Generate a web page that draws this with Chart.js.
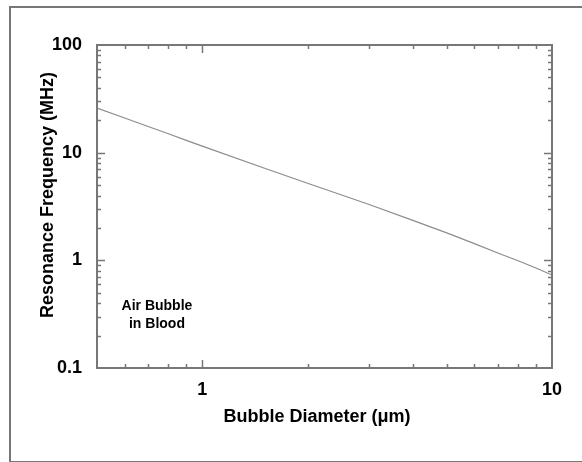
<!DOCTYPE html>
<html>
<head>
<meta charset="utf-8">
<script src="https://cdn.jsdelivr.net/npm/chart.js@4.4.0/dist/chart.umd.min.js"></script>
<style>
  html, body { margin: 0; padding: 0; background: #fff; }
  #wrap { position: relative; width: 582px; height: 462px; overflow: hidden; }
  #frame { position: absolute; left: 9px; top: 6px; width: 700px; height: 453px; border: 2px solid #777; }
  #myChart { position: absolute; left: 0; top: 0; }
</style>
</head>
<body>
<div id="wrap">
  <div id="frame"></div>
  <canvas id="myChart" width="582" height="462"></canvas>
</div>
<script>
// bubble diameter (um) and resonance frequency (MHz)
var diameters = [0.5, 0.6, 0.7, 0.8, 0.9, 1, 1.5, 2, 3, 4, 5, 6, 7, 8, 9, 10];
var frequencies = [26, 21, 17.5, 15, 13, 11.5, 7.2, 5.2, 3.3, 2.35, 1.8, 1.43, 1.17, 0.99, 0.85, 0.73];

// tick marks and labels
var xTickValues = [0.5, 0.6, 0.7, 0.8, 0.9, 1, 2, 3, 4, 5, 6, 7, 8, 9, 10];
var xTickLabels = [1, 10];
var yTickValues = [0.1, 0.2, 0.3, 0.4, 0.5, 0.6, 0.7, 0.8, 0.9,
                   1, 2, 3, 4, 5, 6, 7, 8, 9,
                   10, 20, 30, 40, 50, 60, 70, 80, 90, 100];
var yTickLabels = [0.1, 1, 10, 100];

var xTitle = "Bubble Diameter (\u03bcm)";
var yTitle = "Resonance Frequency (MHz)";
var noteLines = ["Air Bubble", "in Blood"];

var axisColor = "#777";
var fontFamily = "'Liberation Sans', Arial, Helvetica, sans-serif";

function isDecade(v) {
    var l = Math.log10(v);
    return Math.abs(l - Math.round(l)) < 1e-9;
}

// box around the plot, inward ticks on all four sides, axis titles and the note
var framePlugin = {
    id: "framePlugin",
    afterDraw: function(chart) {
        var ctx = chart.ctx;
        var a = chart.chartArea;
        var xs = chart.scales.x, ys = chart.scales.y;
        ctx.save();
        ctx.strokeStyle = axisColor;
        ctx.lineWidth = 1.5;
        xTickValues.forEach(function(v) {
            if (v <= xs.min || v >= xs.max) return;
            var px = Math.round(xs.getPixelForValue(v)) + 0.5;
            var len = isDecade(v) ? 8 : 4;
            ctx.beginPath();
            ctx.moveTo(px, a.bottom); ctx.lineTo(px, a.bottom - len);
            ctx.moveTo(px, a.top); ctx.lineTo(px, a.top + len);
            ctx.stroke();
        });
        yTickValues.forEach(function(v) {
            if (v <= ys.min || v >= ys.max) return;
            var py = Math.round(ys.getPixelForValue(v)) + 0.5;
            var len = isDecade(v) ? 8 : 4;
            ctx.beginPath();
            ctx.moveTo(a.left, py); ctx.lineTo(a.left + len, py);
            ctx.moveTo(a.right, py); ctx.lineTo(a.right - len, py);
            ctx.stroke();
        });
        ctx.lineWidth = 2;
        ctx.strokeRect(a.left, a.top, a.right - a.left, a.bottom - a.top);

        ctx.fillStyle = "#000";
        ctx.textAlign = "center";
        ctx.textBaseline = "middle";

        // axis titles
        ctx.font = "bold 18px " + fontFamily;
        ctx.fillText(xTitle, a.left + 220, a.bottom + 49);
        ctx.save();
        ctx.translate(48, a.top + 150);
        ctx.rotate(-Math.PI / 2);
        ctx.fillText(yTitle, 0, 0);
        ctx.restore();

        ctx.font = "bold 14px " + fontFamily;
        var nx = xs.getPixelForValue(0.742);
        ctx.fillText(noteLines[0], nx, ys.getPixelForValue(0.377));
        ctx.fillText(noteLines[1], nx, ys.getPixelForValue(0.256));
        ctx.restore();
    }
};

var ctx = document.getElementById("myChart").getContext("2d");

new Chart(ctx, {
    type: "line",
    data: {
        labels: diameters,
        datasets: [{
            data: diameters.map(function(d, i) { return { x: d, y: frequencies[i] }; }),
            borderColor: "#8c8c8c",
            borderWidth: 1.2,
            pointRadius: 0,
            tension: 0,
            fill: false
        }]
    },
    options: {
        responsive: false,
        animation: false,
        layout: { padding: { left: 0, top: 45, right: 30, bottom: 0 } },
        plugins: {
            legend: { display: false },
            tooltip: { enabled: false }
        },
        scales: {
            x: {
                type: "logarithmic",
                min: 0.5,
                max: 10,
                afterBuildTicks: function(s) {
                    s.ticks = xTickValues.map(function(v) { return { value: v }; });
                },
                afterFit: function(s) { s.height = 94; },
                grid: { display: false, drawTicks: false },
                border: { display: false },
                ticks: {
                    autoSkip: false,
                    maxRotation: 0,
                    padding: 11,
                    color: "#000",
                    font: { family: fontFamily, size: 18, weight: "bold" },
                    callback: function(v) {
                        return xTickLabels.indexOf(v) >= 0 ? String(v) : "";
                    }
                }
            },
            y: {
                type: "logarithmic",
                min: 0.1,
                max: 100,
                afterBuildTicks: function(s) {
                    s.ticks = yTickValues.map(function(v) { return { value: v }; });
                },
                afterFit: function(s) { s.width = 97; },
                grid: { display: false, drawTicks: false },
                border: { display: false },
                ticks: {
                    autoSkip: false,
                    padding: 15,
                    color: "#000",
                    font: { family: fontFamily, size: 18, weight: "bold" },
                    callback: function(v) {
                        return yTickLabels.indexOf(v) >= 0 ? String(v) : "";
                    }
                }
            }
        }
    },
    plugins: [framePlugin]
});
</script>
</body>
</html>
